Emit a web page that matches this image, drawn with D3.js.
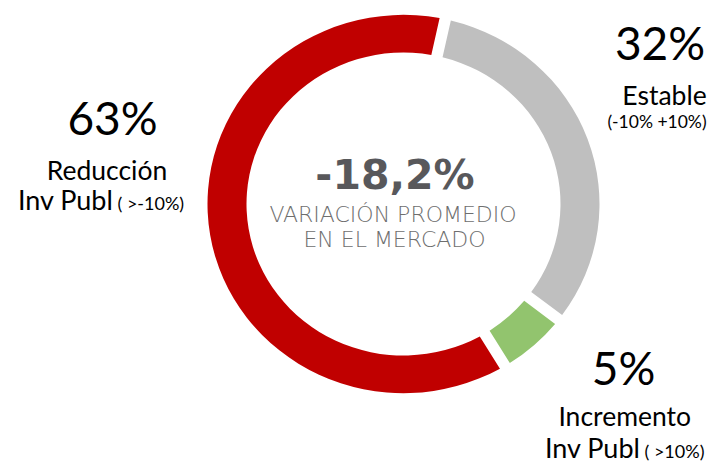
<!DOCTYPE html>
<html>
<head>
<meta charset="utf-8">
<script src="https://d3js.org/d3.v7.min.js"></script>
<style>
  body{margin:0;background:#fff;}
  text{font-family:Lato, "DejaVu Sans", sans-serif;}
</style>
</head>
<body>
<div id="chart"></div>
<script>
// data (clockwise from the top gap)
var categories = ["Estable","Incremento","Reduccion"];
var values = [32,5,63];
var pctLabels = ["32%","5%","63%"];
var line1 = ["Estable","Incremento","Reducción"];
var line2 = ["(-10% +10%)","Inv Publ","Inv Publ"];
var line2small = ["",  " ( >10%)"," ( >-10%)"];
var colors = ["#bfbfbf","#92c46e","#c00000"];

var centerValue = "-18,2%";
var centerText = ["VARIACIÓN PROMEDIO","EN EL MERCADO"];

// where each label block sits (x of centre, baselines)
var labelPos = [
    {x:[660,664.5,657], y:[60,105,128]},
    {x:[623.5,624.7,624.7], y:[385,426,458]},
    {x:[112.5,107,101], y:[135,180,210]}
];

function init(){
    var w = 717;
    var h = 464;
    var cx = 403.5, cy = 204;
    var outerR = 196, innerR = 157;

    var svg = d3.select("#chart")
            .append("svg")
            .attr("width",w)
            .attr("height",h);

    var pie = d3.pie()
            .sort(null)
            .value(function(d){ return d; })
            .startAngle(12.3*Math.PI/180)
            .endAngle(12.3*Math.PI/180 + 2*Math.PI)
            .padAngle(11.5/176);

    var arc = d3.arc()
            .innerRadius(innerR)
            .outerRadius(outerR)
            .padRadius(176);

    var g = svg.append("g")
            .attr("transform","translate("+cx+","+cy+") scale(1,0.965)");

    g.selectAll("path")
        .data(pie(values))
        .enter()
        .append("path")
        .attr("d",arc)
        .attr("fill",function(d,i){ return colors[i]; });

    // centre text
    svg.append("text")
        .attr("x",395)
        .attr("y",188.5)
        .attr("text-anchor","middle")
        .style("font-family","'DejaVu Sans'")
        .style("font-weight","bold")
        .style("font-size","41px")
        .attr("fill","#58585b")
        .text(centerValue);

    svg.selectAll(".sub")
        .data(centerText)
        .enter()
        .append("text")
        .attr("class","sub")
        .attr("x",function(d,i){ return i==0 ? 393 : 394.5; })
        .attr("y",function(d,i){ return i==0 ? 221.7 : 246.5; })
        .attr("text-anchor","middle")
        .style("font-family","'DejaVu Sans'")
        .style("font-weight","200")
        .style("font-size","22px")
        .attr("fill","#6e6e6e")
        .text(function(d){ return d; });

    // outside labels
    categories.forEach(function(c,i){
        var p = labelPos[i];
        svg.append("text")
            .attr("x",p.x[0])
            .attr("y",p.y[0])
            .attr("text-anchor","middle")
            .style("font-size","46px")
            .attr("fill","#000")
            .text(pctLabels[i]);

        svg.append("text")
            .attr("x",p.x[1])
            .attr("y",p.y[1])
            .attr("text-anchor","middle")
            .style("font-size","26.5px")
            .attr("fill","#000")
            .text(line1[i]);

        var t = svg.append("text")
            .attr("x",p.x[2])
            .attr("y",p.y[2])
            .attr("text-anchor","middle")
            .attr("fill","#000");
        if (line2small[i]){
            t.append("tspan").style("font-size","27px").text(line2[i]);
            t.append("tspan").style("font-size","18px").text(line2small[i]);
        } else {
            t.style("font-size","17.5px").text(line2[i]);
        }
    });
}

window.onload=init;
</script>
</body>
</html>
